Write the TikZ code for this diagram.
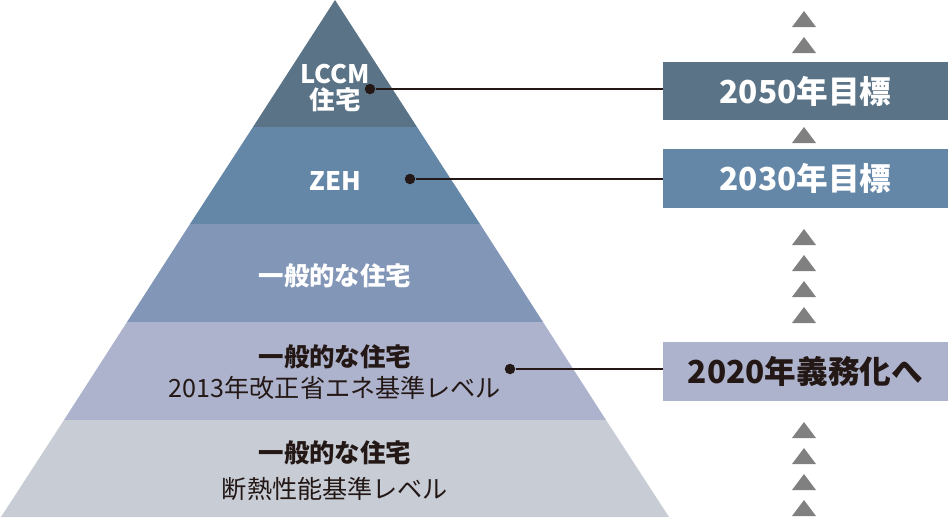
\documentclass[tikz,border=0pt]{standalone}
\usepackage{fontspec}
\setmainfont{Noto Sans CJK JP}
\usepackage{tikz}
\definecolor{layerA}{HTML}{5A7386}
\definecolor{layerB}{HTML}{6487A8}
\definecolor{layerC}{HTML}{8296B7}
\definecolor{layerD}{HTML}{AEB3CD}
\definecolor{layerE}{HTML}{C8CCD5}
\definecolor{ink}{HTML}{231815}
\definecolor{stepgray}{HTML}{808080}
\tikzset{
  lbl/.style={font=\bfseries\fontsize{14.5}{15}\selectfont, align=center},
  sub/.style={font=\fontsize{14.3}{17}\selectfont},
  dot/.style={circle, fill=ink, inner sep=0pt, minimum size=0.21cm},
  goal/.style={minimum width=5.7cm, minimum height=1.17cm, inner sep=0pt,
    font=\bfseries\fontsize{18}{20}\selectfont},
  link/.style={draw=ink, line width=0.6pt}
}
\begin{document}
\begin{tikzpicture}[x=0.02cm, y=-0.02cm]
\useasboundingbox (0,0) rectangle (948,518);

% Pyramid layers
\fill[layerA] (335,0) -- (417,127) -- (253,127) -- cycle;
\fill[layerB] (253,127) -- (417,127) -- (480,224) -- (190,224) -- cycle;
\fill[layerC] (190,224) -- (480,224) -- (543,322) -- (127,322) -- cycle;
\fill[layerD] (127,322) -- (543,322) -- (606,420) -- (64,420) -- cycle;
\fill[layerE] (64,420) -- (606,420) -- (669,517) -- (1,517) -- cycle;

% Layer labels
\node[lbl, white] (lccm) at (335,88) {LCCM\\住宅};
\node[lbl, white] (zeh) at (335,181) {ZEH};
\node[lbl, white] (general) at (335,276) {一般的な住宅};
\node[lbl, ink] (std2013) at (335,357) {一般的な住宅};
\node[sub, ink] (std2013sub) at (335,388) {2013年改正省エネ基準レベル};
\node[lbl, ink] (insul) at (335,453) {一般的な住宅};
\node[sub, ink] (insulsub) at (335,489) {断熱性能基準レベル};

% Targets
\node[goal, fill=layerA, text=white] (g2050) at (805.5,91) {2050年目標};
\node[goal, fill=layerB, text=white] (g2030) at (805.5,178.5) {2030年目標};
\node[goal, fill=layerD, text=ink] (g2020) at (805.5,371.5) {2020年義務化へ};

% Dots and leaders
\node[dot] (d2050) at (370,89) {};
\node[dot] (d2030) at (410,179) {};
\node[dot] (d2020) at (510,369) {};
\draw[link] (d2050) -- (d2050 -| g2050.west);
\draw[link] (d2030) -- (d2030 -| g2030.west);
\draw[link] (d2020) -- (d2020 -| g2020.west);

% Step arrows
\foreach \y in {27,53,143,245,271,297,323,438,464,490,516}
  \fill[stepgray] (804,\y) +(-12,0) -- +(12,0) -- +(0,-16) -- cycle;
\end{tikzpicture}
\end{document}
